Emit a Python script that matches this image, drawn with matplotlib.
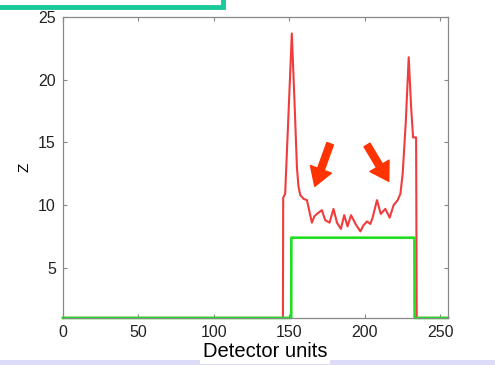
import matplotlib.pyplot as plt
from matplotlib.patches import Rectangle

plt.rcParams['font.family'] = ['Liberation Sans', 'DejaVu Sans']

# profile (detector units vs Z)
red_x = [0, 145.7, 145.9, 147.2, 148.3, 150.0, 151.6, 153.3, 155.0, 156.0, 157.2,
         159.4, 161.6, 164.9, 166.5, 168.2, 171.5, 173.7, 176.6, 179.2, 181.5,
         184.1, 186.3, 188.5, 190.8, 193.8, 197.0, 199.1, 201.4, 203.6, 205.1,
         208.0, 210.5, 213.5, 216.4, 219.0, 221.7, 223.5, 225.0, 227.0, 229.0,
         230.6, 231.9, 233.9, 234.3, 255]
red_z = [1, 1, 10.6, 10.9, 14.1, 19.0, 23.7, 18.5, 13.0, 11.5, 10.8,
         10.5, 10.4, 8.6, 9.1, 9.3, 9.6, 8.8, 8.6, 9.7, 8.6,
         8.1, 9.2, 8.3, 9.2, 8.5, 7.9, 8.4, 8.7, 8.5, 9.0,
         10.4, 9.3, 9.7, 9.0, 10.0, 10.4, 10.9, 12.5, 16.5, 21.8,
         17.8, 15.4, 15.4, 1, 1]
green_x = [0, 151.2, 151.3, 232.8, 232.9, 255]
green_z = [1, 1, 7.4, 7.4, 1, 1]

fig = plt.figure(figsize=(4.95, 3.65), dpi=100)
ax = fig.add_axes([0.127, 0.129, 0.778, 0.824])

ax.plot(red_x, red_z, color='#f03c3c', linewidth=1.5)
ax.plot(green_x, green_z, color='#22dd22', linewidth=1.9, clip_on=False)

arrow = dict(facecolor='#ff3300', edgecolor='#ff3300', width=5, headwidth=16, headlength=13)
ax.annotate('', xy=(166.8, 11.5), xytext=(177, 14.9), arrowprops=arrow)
ax.annotate('', xy=(215.8, 11.9), xytext=(201.4, 14.8), arrowprops=arrow)

ax.set_xlim(0, 255)
ax.set_ylim(1, 25)
ax.set_xticks([0, 50, 100, 150, 200, 250])
ax.set_yticks([5, 10, 15, 20, 25])
ax.tick_params(direction='in', top=True, right=True, length=3, color='#888888',
               labelsize=11.5, labelcolor='#222222', pad=5)
for s in ax.spines.values():
    s.set_color('#888888')
    s.set_linewidth(0.9)
ax.set_ylabel('Z', fontsize=11, labelpad=5)

# slide decorations
fig.patches.append(Rectangle((-0.05, 0.982), 0.50, 0.1, transform=fig.transFigure,
                             fill=False, edgecolor='#18c99a', linewidth=3.5))
fig.patches.append(Rectangle((0, 0), 1, 0.015, transform=fig.transFigure,
                             facecolor='#dcdcf6', edgecolor='none'))
fig.text(0.535, 0.036, 'Detector units', ha='center', va='center', fontsize=14.5,
         bbox=dict(facecolor='white', edgecolor='none', pad=2))

plt.savefig('out.png', dpi=100)
